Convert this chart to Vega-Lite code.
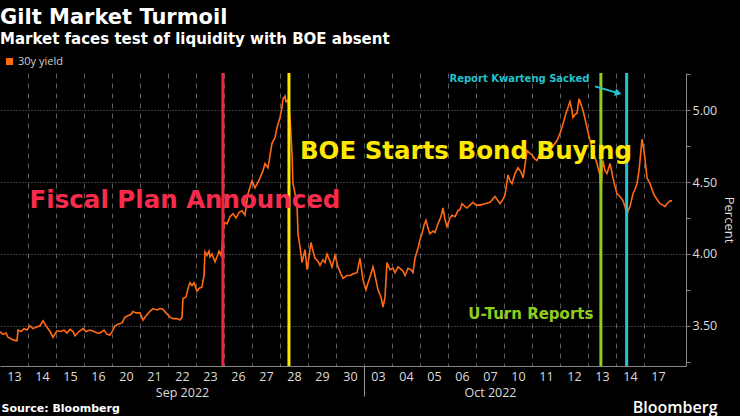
{
  "$schema": "https://vega.github.io/schema/vega-lite/v6.json",
  "width": 686,
  "height": 293,
  "autosize": {"type": "none"},
  "padding": {"left": 0, "top": 73, "right": 54, "bottom": 50},
  "background": "#000000",
  "config": {"view": {"stroke": null}, "font": "Open Sans"},
  "title": {
    "text": "Gilt Market Turmoil",
    "subtitle": "Market faces test of liquidity with BOE absent",
    "anchor": "start",
    "frame": "group",
    "offset": 9,
    "color": "#ffffff",
    "subtitleColor": "#ffffff",
    "font": "DejaVu Sans",
    "subtitleFont": "DejaVu Sans",
    "fontSize": 21,
    "subtitleFontSize": 15,
    "fontWeight": "bold",
    "subtitleFontWeight": "bold",
    "subtitlePadding": 4
  },
  "datasets": {
    "yield": [
      {"t": 0, "v": 3.46, "series": "30y yield"},
      {"t": 0.107, "v": 3.44, "series": "30y yield"},
      {"t": 0.214, "v": 3.45, "series": "30y yield"},
      {"t": 0.286, "v": 3.42, "series": "30y yield"},
      {"t": 0.393, "v": 3.41, "series": "30y yield"},
      {"t": 0.5, "v": 3.40, "series": "30y yield"},
      {"t": 0.607, "v": 3.395, "series": "30y yield"},
      {"t": 0.643, "v": 3.47, "series": "30y yield"},
      {"t": 0.75, "v": 3.46, "series": "30y yield"},
      {"t": 0.857, "v": 3.48, "series": "30y yield"},
      {"t": 0.964, "v": 3.47, "series": "30y yield"},
      {"t": 1.071, "v": 3.50, "series": "30y yield"},
      {"t": 1.179, "v": 3.48, "series": "30y yield"},
      {"t": 1.286, "v": 3.49, "series": "30y yield"},
      {"t": 1.429, "v": 3.50, "series": "30y yield"},
      {"t": 1.536, "v": 3.535, "series": "30y yield"},
      {"t": 1.643, "v": 3.50, "series": "30y yield"},
      {"t": 1.786, "v": 3.46, "series": "30y yield"},
      {"t": 1.893, "v": 3.42, "series": "30y yield"},
      {"t": 2.036, "v": 3.465, "series": "30y yield"},
      {"t": 2.179, "v": 3.46, "series": "30y yield"},
      {"t": 2.286, "v": 3.47, "series": "30y yield"},
      {"t": 2.393, "v": 3.45, "series": "30y yield"},
      {"t": 2.5, "v": 3.475, "series": "30y yield"},
      {"t": 2.607, "v": 3.46, "series": "30y yield"},
      {"t": 2.679, "v": 3.43, "series": "30y yield"},
      {"t": 2.821, "v": 3.46, "series": "30y yield"},
      {"t": 2.964, "v": 3.48, "series": "30y yield"},
      {"t": 3.071, "v": 3.46, "series": "30y yield"},
      {"t": 3.214, "v": 3.47, "series": "30y yield"},
      {"t": 3.357, "v": 3.46, "series": "30y yield"},
      {"t": 3.464, "v": 3.45, "series": "30y yield"},
      {"t": 3.571, "v": 3.45, "series": "30y yield"},
      {"t": 3.714, "v": 3.47, "series": "30y yield"},
      {"t": 3.821, "v": 3.44, "series": "30y yield"},
      {"t": 3.929, "v": 3.435, "series": "30y yield"},
      {"t": 4.0, "v": 3.46, "series": "30y yield"},
      {"t": 4.107, "v": 3.50, "series": "30y yield"},
      {"t": 4.214, "v": 3.51, "series": "30y yield"},
      {"t": 4.357, "v": 3.52, "series": "30y yield"},
      {"t": 4.464, "v": 3.56, "series": "30y yield"},
      {"t": 4.571, "v": 3.57, "series": "30y yield"},
      {"t": 4.679, "v": 3.58, "series": "30y yield"},
      {"t": 4.75, "v": 3.60, "series": "30y yield"},
      {"t": 4.857, "v": 3.59, "series": "30y yield"},
      {"t": 5.0, "v": 3.59, "series": "30y yield"},
      {"t": 5.107, "v": 3.54, "series": "30y yield"},
      {"t": 5.214, "v": 3.57, "series": "30y yield"},
      {"t": 5.357, "v": 3.60, "series": "30y yield"},
      {"t": 5.464, "v": 3.62, "series": "30y yield"},
      {"t": 5.607, "v": 3.61, "series": "30y yield"},
      {"t": 5.714, "v": 3.62, "series": "30y yield"},
      {"t": 5.821, "v": 3.615, "series": "30y yield"},
      {"t": 5.929, "v": 3.59, "series": "30y yield"},
      {"t": 6.071, "v": 3.56, "series": "30y yield"},
      {"t": 6.179, "v": 3.55, "series": "30y yield"},
      {"t": 6.321, "v": 3.55, "series": "30y yield"},
      {"t": 6.429, "v": 3.54, "series": "30y yield"},
      {"t": 6.5, "v": 3.56, "series": "30y yield"},
      {"t": 6.536, "v": 3.69, "series": "30y yield"},
      {"t": 6.643, "v": 3.70, "series": "30y yield"},
      {"t": 6.714, "v": 3.76, "series": "30y yield"},
      {"t": 6.786, "v": 3.80, "series": "30y yield"},
      {"t": 6.857, "v": 3.78, "series": "30y yield"},
      {"t": 6.929, "v": 3.80, "series": "30y yield"},
      {"t": 7.036, "v": 3.74, "series": "30y yield"},
      {"t": 7.107, "v": 3.76, "series": "30y yield"},
      {"t": 7.214, "v": 3.77, "series": "30y yield"},
      {"t": 7.286, "v": 3.85, "series": "30y yield"},
      {"t": 7.321, "v": 4.015, "series": "30y yield"},
      {"t": 7.393, "v": 3.99, "series": "30y yield"},
      {"t": 7.464, "v": 4.02, "series": "30y yield"},
      {"t": 7.5, "v": 3.98, "series": "30y yield"},
      {"t": 7.571, "v": 4.00, "series": "30y yield"},
      {"t": 7.679, "v": 3.945, "series": "30y yield"},
      {"t": 7.75, "v": 3.98, "series": "30y yield"},
      {"t": 7.821, "v": 4.02, "series": "30y yield"},
      {"t": 7.893, "v": 3.99, "series": "30y yield"},
      {"t": 7.929, "v": 4.04, "series": "30y yield"},
      {"t": 8.0, "v": 4.22, "series": "30y yield"},
      {"t": 8.107, "v": 4.21, "series": "30y yield"},
      {"t": 8.214, "v": 4.26, "series": "30y yield"},
      {"t": 8.321, "v": 4.28, "series": "30y yield"},
      {"t": 8.429, "v": 4.25, "series": "30y yield"},
      {"t": 8.536, "v": 4.29, "series": "30y yield"},
      {"t": 8.643, "v": 4.30, "series": "30y yield"},
      {"t": 8.75, "v": 4.27, "series": "30y yield"},
      {"t": 8.857, "v": 4.42, "series": "30y yield"},
      {"t": 9.0, "v": 4.51, "series": "30y yield"},
      {"t": 9.107, "v": 4.46, "series": "30y yield"},
      {"t": 9.214, "v": 4.50, "series": "30y yield"},
      {"t": 9.286, "v": 4.53, "series": "30y yield"},
      {"t": 9.393, "v": 4.58, "series": "30y yield"},
      {"t": 9.464, "v": 4.63, "series": "30y yield"},
      {"t": 9.571, "v": 4.60, "series": "30y yield"},
      {"t": 9.714, "v": 4.77, "series": "30y yield"},
      {"t": 9.821, "v": 4.81, "series": "30y yield"},
      {"t": 9.893, "v": 4.88, "series": "30y yield"},
      {"t": 10.0, "v": 4.95, "series": "30y yield"},
      {"t": 10.071, "v": 5.02, "series": "30y yield"},
      {"t": 10.107, "v": 5.08, "series": "30y yield"},
      {"t": 10.179, "v": 5.10, "series": "30y yield"},
      {"t": 10.214, "v": 5.06, "series": "30y yield"},
      {"t": 10.286, "v": 5.07, "series": "30y yield"},
      {"t": 10.357, "v": 4.95, "series": "30y yield"},
      {"t": 10.429, "v": 4.70, "series": "30y yield"},
      {"t": 10.464, "v": 4.49, "series": "30y yield"},
      {"t": 10.536, "v": 4.42, "series": "30y yield"},
      {"t": 10.607, "v": 4.35, "series": "30y yield"},
      {"t": 10.643, "v": 4.14, "series": "30y yield"},
      {"t": 10.714, "v": 4.05, "series": "30y yield"},
      {"t": 10.786, "v": 3.94, "series": "30y yield"},
      {"t": 10.893, "v": 4.03, "series": "30y yield"},
      {"t": 10.964, "v": 3.89, "series": "30y yield"},
      {"t": 11.036, "v": 3.98, "series": "30y yield"},
      {"t": 11.107, "v": 4.08, "series": "30y yield"},
      {"t": 11.179, "v": 4.02, "series": "30y yield"},
      {"t": 11.25, "v": 3.97, "series": "30y yield"},
      {"t": 11.357, "v": 3.95, "series": "30y yield"},
      {"t": 11.429, "v": 3.92, "series": "30y yield"},
      {"t": 11.536, "v": 3.96, "series": "30y yield"},
      {"t": 11.607, "v": 3.94, "series": "30y yield"},
      {"t": 11.679, "v": 4.00, "series": "30y yield"},
      {"t": 11.786, "v": 3.95, "series": "30y yield"},
      {"t": 11.857, "v": 3.91, "series": "30y yield"},
      {"t": 11.964, "v": 3.99, "series": "30y yield"},
      {"t": 12.071, "v": 3.91, "series": "30y yield"},
      {"t": 12.179, "v": 3.86, "series": "30y yield"},
      {"t": 12.25, "v": 3.83, "series": "30y yield"},
      {"t": 12.393, "v": 3.85, "series": "30y yield"},
      {"t": 12.5, "v": 3.85, "series": "30y yield"},
      {"t": 12.607, "v": 3.86, "series": "30y yield"},
      {"t": 12.75, "v": 3.87, "series": "30y yield"},
      {"t": 12.857, "v": 3.97, "series": "30y yield"},
      {"t": 12.964, "v": 3.82, "series": "30y yield"},
      {"t": 13.071, "v": 3.75, "series": "30y yield"},
      {"t": 13.143, "v": 3.80, "series": "30y yield"},
      {"t": 13.214, "v": 3.84, "series": "30y yield"},
      {"t": 13.321, "v": 3.91, "series": "30y yield"},
      {"t": 13.393, "v": 3.85, "series": "30y yield"},
      {"t": 13.5, "v": 3.75, "series": "30y yield"},
      {"t": 13.607, "v": 3.70, "series": "30y yield"},
      {"t": 13.679, "v": 3.63, "series": "30y yield"},
      {"t": 13.75, "v": 3.70, "series": "30y yield"},
      {"t": 13.821, "v": 3.94, "series": "30y yield"},
      {"t": 13.929, "v": 3.89, "series": "30y yield"},
      {"t": 14.036, "v": 3.90, "series": "30y yield"},
      {"t": 14.107, "v": 3.87, "series": "30y yield"},
      {"t": 14.214, "v": 3.91, "series": "30y yield"},
      {"t": 14.286, "v": 3.90, "series": "30y yield"},
      {"t": 14.393, "v": 3.88, "series": "30y yield"},
      {"t": 14.464, "v": 3.85, "series": "30y yield"},
      {"t": 14.571, "v": 3.90, "series": "30y yield"},
      {"t": 14.679, "v": 3.89, "series": "30y yield"},
      {"t": 14.75, "v": 3.87, "series": "30y yield"},
      {"t": 14.821, "v": 3.97, "series": "30y yield"},
      {"t": 14.929, "v": 4.04, "series": "30y yield"},
      {"t": 15.0, "v": 4.10, "series": "30y yield"},
      {"t": 15.071, "v": 4.14, "series": "30y yield"},
      {"t": 15.143, "v": 4.20, "series": "30y yield"},
      {"t": 15.214, "v": 4.235, "series": "30y yield"},
      {"t": 15.286, "v": 4.18, "series": "30y yield"},
      {"t": 15.357, "v": 4.14, "series": "30y yield"},
      {"t": 15.464, "v": 4.16, "series": "30y yield"},
      {"t": 15.536, "v": 4.15, "series": "30y yield"},
      {"t": 15.643, "v": 4.21, "series": "30y yield"},
      {"t": 15.75, "v": 4.26, "series": "30y yield"},
      {"t": 15.821, "v": 4.32, "series": "30y yield"},
      {"t": 15.893, "v": 4.24, "series": "30y yield"},
      {"t": 15.964, "v": 4.19, "series": "30y yield"},
      {"t": 16.071, "v": 4.25, "series": "30y yield"},
      {"t": 16.143, "v": 4.27, "series": "30y yield"},
      {"t": 16.25, "v": 4.26, "series": "30y yield"},
      {"t": 16.357, "v": 4.30, "series": "30y yield"},
      {"t": 16.429, "v": 4.31, "series": "30y yield"},
      {"t": 16.5, "v": 4.35, "series": "30y yield"},
      {"t": 16.607, "v": 4.33, "series": "30y yield"},
      {"t": 16.679, "v": 4.32, "series": "30y yield"},
      {"t": 16.786, "v": 4.34, "series": "30y yield"},
      {"t": 16.893, "v": 4.36, "series": "30y yield"},
      {"t": 17.0, "v": 4.34, "series": "30y yield"},
      {"t": 17.143, "v": 4.34, "series": "30y yield"},
      {"t": 17.321, "v": 4.35, "series": "30y yield"},
      {"t": 17.5, "v": 4.36, "series": "30y yield"},
      {"t": 17.679, "v": 4.40, "series": "30y yield"},
      {"t": 17.857, "v": 4.35, "series": "30y yield"},
      {"t": 17.964, "v": 4.38, "series": "30y yield"},
      {"t": 18.036, "v": 4.41, "series": "30y yield"},
      {"t": 18.143, "v": 4.55, "series": "30y yield"},
      {"t": 18.214, "v": 4.51, "series": "30y yield"},
      {"t": 18.286, "v": 4.49, "series": "30y yield"},
      {"t": 18.393, "v": 4.56, "series": "30y yield"},
      {"t": 18.5, "v": 4.60, "series": "30y yield"},
      {"t": 18.607, "v": 4.57, "series": "30y yield"},
      {"t": 18.679, "v": 4.53, "series": "30y yield"},
      {"t": 18.75, "v": 4.62, "series": "30y yield"},
      {"t": 18.821, "v": 4.72, "series": "30y yield"},
      {"t": 18.929, "v": 4.70, "series": "30y yield"},
      {"t": 19.0, "v": 4.69, "series": "30y yield"},
      {"t": 19.107, "v": 4.66, "series": "30y yield"},
      {"t": 19.179, "v": 4.65, "series": "30y yield"},
      {"t": 19.286, "v": 4.70, "series": "30y yield"},
      {"t": 19.393, "v": 4.74, "series": "30y yield"},
      {"t": 19.536, "v": 4.73, "series": "30y yield"},
      {"t": 19.643, "v": 4.72, "series": "30y yield"},
      {"t": 19.75, "v": 4.75, "series": "30y yield"},
      {"t": 19.893, "v": 4.79, "series": "30y yield"},
      {"t": 20.0, "v": 4.84, "series": "30y yield"},
      {"t": 20.071, "v": 4.88, "series": "30y yield"},
      {"t": 20.143, "v": 4.93, "series": "30y yield"},
      {"t": 20.214, "v": 4.98, "series": "30y yield"},
      {"t": 20.286, "v": 5.02, "series": "30y yield"},
      {"t": 20.357, "v": 5.06, "series": "30y yield"},
      {"t": 20.429, "v": 5.00, "series": "30y yield"},
      {"t": 20.464, "v": 4.95, "series": "30y yield"},
      {"t": 20.536, "v": 4.97, "series": "30y yield"},
      {"t": 20.607, "v": 4.98, "series": "30y yield"},
      {"t": 20.679, "v": 5.08, "series": "30y yield"},
      {"t": 20.75, "v": 5.04, "series": "30y yield"},
      {"t": 20.821, "v": 5.00, "series": "30y yield"},
      {"t": 20.893, "v": 4.94, "series": "30y yield"},
      {"t": 20.964, "v": 4.88, "series": "30y yield"},
      {"t": 21.071, "v": 4.79, "series": "30y yield"},
      {"t": 21.143, "v": 4.74, "series": "30y yield"},
      {"t": 21.25, "v": 4.67, "series": "30y yield"},
      {"t": 21.321, "v": 4.63, "series": "30y yield"},
      {"t": 21.357, "v": 4.60, "series": "30y yield"},
      {"t": 21.429, "v": 4.55, "series": "30y yield"},
      {"t": 21.464, "v": 4.42, "series": "30y yield"},
      {"t": 21.5, "v": 4.58, "series": "30y yield"},
      {"t": 21.536, "v": 4.65, "series": "30y yield"},
      {"t": 21.607, "v": 4.58, "series": "30y yield"},
      {"t": 21.679, "v": 4.56, "series": "30y yield"},
      {"t": 21.786, "v": 4.63, "series": "30y yield"},
      {"t": 21.893, "v": 4.53, "series": "30y yield"},
      {"t": 21.964, "v": 4.47, "series": "30y yield"},
      {"t": 22.036, "v": 4.42, "series": "30y yield"},
      {"t": 22.143, "v": 4.40, "series": "30y yield"},
      {"t": 22.25, "v": 4.37, "series": "30y yield"},
      {"t": 22.321, "v": 4.33, "series": "30y yield"},
      {"t": 22.393, "v": 4.27, "series": "30y yield"},
      {"t": 22.429, "v": 4.30, "series": "30y yield"},
      {"t": 22.5, "v": 4.33, "series": "30y yield"},
      {"t": 22.607, "v": 4.42, "series": "30y yield"},
      {"t": 22.679, "v": 4.45, "series": "30y yield"},
      {"t": 22.75, "v": 4.49, "series": "30y yield"},
      {"t": 22.821, "v": 4.58, "series": "30y yield"},
      {"t": 22.857, "v": 4.65, "series": "30y yield"},
      {"t": 22.929, "v": 4.80, "series": "30y yield"},
      {"t": 22.964, "v": 4.76, "series": "30y yield"},
      {"t": 23.0, "v": 4.72, "series": "30y yield"},
      {"t": 23.071, "v": 4.60, "series": "30y yield"},
      {"t": 23.107, "v": 4.53, "series": "30y yield"},
      {"t": 23.214, "v": 4.49, "series": "30y yield"},
      {"t": 23.321, "v": 4.43, "series": "30y yield"},
      {"t": 23.393, "v": 4.40, "series": "30y yield"},
      {"t": 23.5, "v": 4.37, "series": "30y yield"},
      {"t": 23.571, "v": 4.35, "series": "30y yield"},
      {"t": 23.679, "v": 4.34, "series": "30y yield"},
      {"t": 23.75, "v": 4.33, "series": "30y yield"},
      {"t": 23.821, "v": 4.35, "series": "30y yield"},
      {"t": 23.929, "v": 4.37, "series": "30y yield"},
      {"t": 24.0, "v": 4.37, "series": "30y yield"}
    ],
    "events": [
      {"event": "Fiscal Plan Announced", "t": 7.96},
      {"event": "BOE Starts Bond Buying", "t": 10.32},
      {"event": "U-Turn Reports", "t": 21.46},
      {"event": "Report Kwarteng Sacked", "t": 22.38}
    ],
    "notes": [
      {"label": "Fiscal Plan Announced", "t": 6.607, "v": 4.367},
      {"label": "BOE Starts Bond Buying", "t": 16.64, "v": 4.708},
      {"label": "U-Turn Reports", "t": 18.96, "v": 3.581},
      {"label": "Report Kwarteng Sacked", "t": 18.55, "v": 5.216}
    ],
    "arrow": [
      {"t": 21.25, "v": 5.167, "t2": 22.08, "v2": 5.12}
    ]
  },
  "resolve": {"axis": {"x": "independent", "y": "independent"}},
  "layer": [
    {
      "data": {"name": "yield"},
      "mark": {"type": "line", "strokeWidth": 1.6, "interpolate": "linear"},
      "encoding": {
        "x": {
          "field": "t",
          "type": "quantitative",
          "scale": {"domain": [0, 24.5], "nice": false, "zero": false},
          "axis": {
            "orient": "bottom",
            "values": [0,1,2,3,4,5,6,7,8,9,10,11,12,13,14,15,16,17,18,19,20,21,22,23,24],
            "labelExpr": "datum.value == 6 ? ['22', 'Sep 2022'] : datum.value == 17 ? ['07', 'Oct 2022'] : ['13','14','15','16','20','21','22','23','26','27','28','29','30','03','04','05','06','07','10','11','12','13','14','17',''][datum.value]",
            "labelOffset": 14,
            "labelFlush": false,
            "labelOverlap": false,
            "labelBound": false,
            "labelColor": "#dddddd",
            "labelFont": "Open Sans",
            "labelFontSize": 12.5,
            "labelLineHeight": 16,
            "labelPadding": -26,
            "tickSize": 30,
            "tickColor": "#999999",
            "tickOpacity": {"condition": {"test": "datum.value == 13", "value": 1}, "value": 0},
            "domainColor": "#888888",
            "grid": true,
            "gridColor": "#5c5c5c",
            "gridDash": [5, 5],
            "gridOpacity": {"condition": {"test": "datum.value == 0 || datum.value == 24", "value": 0}, "value": 1},
            "title": "Source: Bloomberg",
            "titleX": 1,
            "titleY": 42,
            "titleAlign": "left",
            "titleAnchor": "start",
            "titleBaseline": "middle",
            "titleFont": "DejaVu Sans",
            "titleFontSize": 11,
            "titleFontWeight": "bold",
            "titleColor": "#ffffff"
          }
        },
        "y": {
          "field": "v",
          "type": "quantitative",
          "scale": {"domain": [3.22, 5.26], "nice": false, "zero": false},
          "axis": {
            "orient": "right",
            "values": [3.25, 3.5, 3.75, 4, 4.25, 4.5, 4.75, 5, 5.25],
            "format": ".2f",
            "labelExpr": "(datum.value * 4) % 2 == 0 ? datum.label : ''",
            "labelOverlap": false,
            "labelColor": "#dddddd",
            "labelFont": "Open Sans",
            "labelFontSize": 12.5,
            "labelPadding": 2,
            "tickSize": 4,
            "tickColor": "#888888",
            "domainColor": "#888888",
            "grid": true,
            "gridColor": "#777777",
            "gridDash": [1, 2],
            "gridOpacity": {"condition": {"test": "(datum.value * 4) % 2 == 1", "value": 0}, "value": 1},
            "title": "Percent",
            "titleColor": "#dddddd",
            "titleFont": "Open Sans",
            "titleFontSize": 13,
            "titleFontWeight": "normal",
            "titlePadding": 5
          }
        },
        "color": {
          "field": "series",
          "type": "nominal",
          "scale": {"domain": ["30y yield"], "range": ["#ff6a13"]},
          "legend": {
            "title": null,
            "orient": "none",
            "legendX": 4,
            "legendY": -17,
            "symbolType": "square",
            "symbolSize": 50,
            "symbolStrokeWidth": 0,
            "labelColor": "#cccccc",
            "labelFont": "Open Sans",
            "labelFontSize": 11,
            "labelOffset": 3,
            "encode": {"symbols": {"update": {"fill": {"value": "#ff6a13"}, "fillOpacity": {"value": 1}}}}
          }
        }
      }
    },
    {
      "data": {"name": "events"},
      "mark": {"type": "rule", "strokeWidth": 3},
      "encoding": {
        "x": {
          "field": "t",
          "type": "quantitative",
          "axis": {
            "orient": "bottom",
            "labels": false,
            "ticks": false,
            "domain": false,
            "grid": false,
            "title": "Bloomberg",
            "titleX": 717,
            "titleY": 41,
            "titleAlign": "right",
            "titleAnchor": "end",
            "titleBaseline": "middle",
            "titleFont": "Open Sans",
            "titleFontSize": 16,
            "titleFontWeight": 600,
            "titleColor": "#ffffff"
          }
        },
        "stroke": {
          "field": "event",
          "type": "nominal",
          "scale": {
            "domain": ["Fiscal Plan Announced", "BOE Starts Bond Buying", "U-Turn Reports", "Report Kwarteng Sacked"],
            "range": ["#f0263f", "#ffe800", "#8fcf1c", "#1fc6d4"]
          },
          "legend": null
        }
      }
    },
    {
      "data": {"name": "arrow"},
      "mark": {"type": "rule", "strokeWidth": 2, "color": "#1fc6d4"},
      "encoding": {
        "x": {"field": "t", "type": "quantitative", "axis": null},
        "x2": {"field": "t2"},
        "y": {"field": "v", "type": "quantitative", "axis": null},
        "y2": {"field": "v2"}
      }
    },
    {
      "data": {"name": "arrow"},
      "mark": {"type": "point", "shape": "triangle-right", "filled": true, "size": 60, "angle": 15, "color": "#1fc6d4", "opacity": 1},
      "encoding": {
        "x": {"field": "t2", "type": "quantitative", "axis": null},
        "y": {"field": "v2", "type": "quantitative", "axis": null}
      }
    },
    {
      "data": {"name": "notes"},
      "transform": [{"filter": "datum.label == 'Fiscal Plan Announced'"}],
      "mark": {"type": "text", "font": "DejaVu Sans", "fontWeight": "bold", "fontSize": 24.5, "color": "#f72b4c", "align": "center", "baseline": "middle"},
      "encoding": {
        "x": {"field": "t", "type": "quantitative", "axis": null},
        "y": {"field": "v", "type": "quantitative", "axis": null},
        "text": {"field": "label"}
      }
    },
    {
      "data": {"name": "notes"},
      "transform": [{"filter": "datum.label == 'BOE Starts Bond Buying'"}],
      "mark": {"type": "text", "font": "DejaVu Sans", "fontWeight": "bold", "fontSize": 24.5, "color": "#ffe800", "align": "center", "baseline": "middle"},
      "encoding": {
        "x": {"field": "t", "type": "quantitative", "axis": null},
        "y": {"field": "v", "type": "quantitative", "axis": null},
        "text": {"field": "label"}
      }
    },
    {
      "data": {"name": "notes"},
      "transform": [{"filter": "datum.label == 'U-Turn Reports'"}],
      "mark": {"type": "text", "font": "DejaVu Sans", "fontWeight": "bold", "fontSize": 15, "color": "#8fcf1c", "align": "center", "baseline": "middle"},
      "encoding": {
        "x": {"field": "t", "type": "quantitative", "axis": null},
        "y": {"field": "v", "type": "quantitative", "axis": null},
        "text": {"field": "label"}
      }
    },
    {
      "data": {"name": "notes"},
      "transform": [{"filter": "datum.label == 'Report Kwarteng Sacked'"}],
      "mark": {"type": "text", "font": "DejaVu Sans", "fontWeight": "bold", "fontSize": 10, "color": "#22c3cf", "align": "center", "baseline": "middle"},
      "encoding": {
        "x": {"field": "t", "type": "quantitative", "axis": null},
        "y": {"field": "v", "type": "quantitative", "axis": null},
        "text": {"field": "label"}
      }
    }
  ]
}
